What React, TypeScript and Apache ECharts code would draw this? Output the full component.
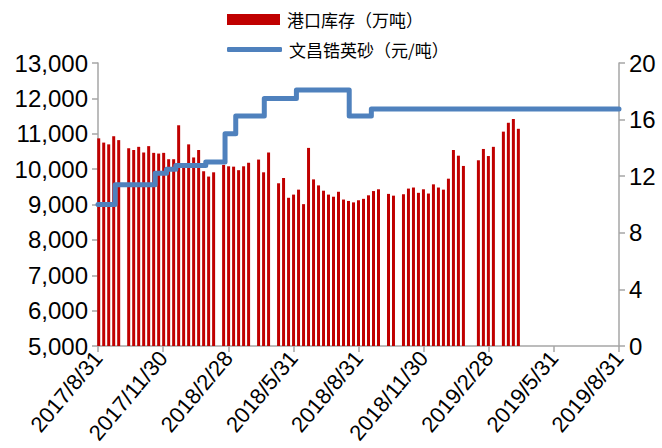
import React, { useEffect, useRef } from "react";
import * as echarts from "echarts";

const START = "2017-08-31";
const xTickLabels = ["2017/8/31", "2017/11/30", "2018/2/28", "2018/5/31", "2018/8/31", "2018/11/30", "2019/2/28", "2019/5/31", "2019/8/31"];

const barDates = [
  "2017-09-01", "2017-09-08", "2017-09-15", "2017-09-22", "2017-09-29",
  "2017-10-13", "2017-10-20", "2017-10-27", "2017-11-03", "2017-11-10", "2017-11-17", "2017-11-24",
  "2017-12-01", "2017-12-08", "2017-12-15", "2017-12-22", "2017-12-29",
  "2018-01-05", "2018-01-12", "2018-01-19", "2018-01-26", "2018-02-02", "2018-02-09",
  "2018-02-23", "2018-03-02", "2018-03-09", "2018-03-16", "2018-03-23", "2018-03-30",
  "2018-04-13", "2018-04-20", "2018-04-27",
  "2018-05-11", "2018-05-18", "2018-05-25", "2018-06-01", "2018-06-08", "2018-06-15", "2018-06-22", "2018-06-29",
  "2018-07-06", "2018-07-13", "2018-07-20", "2018-07-27", "2018-08-03", "2018-08-10", "2018-08-17", "2018-08-24",
  "2018-08-31", "2018-09-07", "2018-09-14", "2018-09-21", "2018-09-28",
  "2018-10-12", "2018-10-19",
  "2018-11-02", "2018-11-09", "2018-11-16", "2018-11-23", "2018-11-30", "2018-12-07", "2018-12-14", "2018-12-21", "2018-12-28",
  "2019-01-04", "2019-01-11", "2019-01-18", "2019-01-25",
  "2019-02-15", "2019-02-22", "2019-03-01", "2019-03-08",
  "2019-03-22", "2019-03-29", "2019-04-05", "2019-04-12",
];
const inventory = [
  10870, 10750, 10700, 10930, 10820,
  10590, 10540, 10630, 10470, 10650, 10460, 10440,
  10460, 10280, 10280, 11240, 10100,
  10700, 10330, 10540, 9940, 9790, 9910,
  10120, 10080, 10070, 9970, 10080, 10180,
  10270, 9910, 10470,
  9600, 9750, 9190, 9280, 9420, 9010, 10600, 9710,
  9540, 9390, 9280, 9220, 9360, 9140, 9100, 9060,
  9120, 9160, 9260, 9380, 9430,
  9300, 9250,
  9290, 9450, 9480, 9330, 9430, 9310, 9570, 9480, 9420,
  9730, 10540, 10380, 10090,
  10250, 10570, 10370, 10630,
  11060, 11310, 11420, 11140,
];

const priceDates = [
  "2017-08-31", "2017-09-24", "2017-11-19", "2017-12-05", "2017-12-18", "2018-01-29",
  "2018-02-25", "2018-03-12", "2018-04-21", "2018-06-05", "2018-08-18", "2018-09-18", "2019-08-31",
];
const zirconPrice = [10.0, 11.4, 12.2, 12.5, 12.75, 13.0, 15.0, 16.25, 17.5, 18.1, 16.25, 16.75, 16.75];

const DAY = 86400000;
const dayOf = (d: string) => Math.round((Date.parse(d) - Date.parse(START)) / DAY);
const TOTAL_DAYS = dayOf("2019-08-31");
const TICK_STEP = TOTAL_DAYS / 8;

const LABEL_FONT = "'Liberation Sans', Arial, sans-serif";
const CJK_FONT = "'Noto Sans CJK SC', sans-serif";
const AXIS_GRAY = "#A6A6A6";
const Y_LABEL_SIZE = 24;
const X_LABEL_SIZE = 22;

export default function App() {
  const ref = useRef<HTMLDivElement>(null);
  useEffect(() => {
    if (!ref.current) return;
    const chart = echarts.init(ref.current, undefined, { renderer: "svg" });
    const barData = barDates.map((d, i) => [dayOf(d), inventory[i]]);
    const lineData = priceDates.map((d, i) => [dayOf(d), zirconPrice[i]]);
    chart.setOption({
      animation: false,
      backgroundColor: "#ffffff",
      legend: [
        {
          data: [{ name: "港口库存（万吨）", icon: "rect" }],
          left: 227,
          top: 11,
          padding: 0,
          itemWidth: 53,
          itemHeight: 11,
          itemGap: 0,
          textStyle: { fontFamily: CJK_FONT, fontSize: 17, color: "#000", padding: [0, 0, 0, 2] },
        },
        {
          data: [{ name: "文昌锆英砂（元/吨）", icon: "roundRect" }],
          left: 227,
          top: 41,
          padding: 0,
          itemWidth: 55,
          itemHeight: 5,
          itemGap: 0,
          itemStyle: { color: "#4F81BD" },
          textStyle: { fontFamily: CJK_FONT, fontSize: 17, color: "#000", padding: [0, 0, 0, 2] },
        },
      ],
      grid: { left: 98, right: 43, top: 63, bottom: 102, containLabel: false },
      xAxis: {
        type: "value",
        min: 0,
        max: TOTAL_DAYS,
        interval: TICK_STEP,
        splitLine: { show: false },
        axisLine: { lineStyle: { color: AXIS_GRAY, width: 1.5 } },
        axisTick: { show: true, length: 6, lineStyle: { color: AXIS_GRAY, width: 1.5 } },
        axisLabel: {
          rotate: 50,
          margin: 8,
          color: "#000",
          fontFamily: LABEL_FONT,
          fontSize: X_LABEL_SIZE,
          formatter: (v: number) => xTickLabels[Math.round(v / TICK_STEP)] ?? "",
        },
      },
      yAxis: [
        {
          type: "value",
          min: 5000,
          max: 13000,
          interval: 1000,
          splitLine: { show: false },
          axisLine: { show: true, lineStyle: { color: AXIS_GRAY, width: 1.5 } },
          axisTick: { show: true, length: 6, lineStyle: { color: AXIS_GRAY, width: 1.5 } },
          axisLabel: {
            margin: 10,
            color: "#000",
            fontFamily: LABEL_FONT,
            fontSize: Y_LABEL_SIZE,
            formatter: (v: number) => v.toLocaleString("en-US"),
          },
        },
        {
          type: "value",
          min: 0,
          max: 20,
          interval: 4,
          position: "right",
          splitLine: { show: false },
          axisLine: { show: true, lineStyle: { color: AXIS_GRAY, width: 1.5 } },
          axisTick: { show: true, length: 6, lineStyle: { color: AXIS_GRAY, width: 1.5 } },
          axisLabel: { margin: 10, color: "#000", fontFamily: LABEL_FONT, fontSize: Y_LABEL_SIZE },
        },
      ],
      series: [
        {
          name: "港口库存（万吨）",
          type: "bar",
          yAxisIndex: 0,
          data: barData,
          barWidth: 3,
          itemStyle: { color: "#C00000" },
        },
        {
          name: "文昌锆英砂（元/吨）",
          type: "line",
          yAxisIndex: 1,
          step: "end",
          data: lineData,
          symbol: "none",
          showSymbol: false,
          lineStyle: { color: "#4F81BD", width: 5, cap: "round", join: "round" },
          itemStyle: { color: "#4F81BD" },
          z: 5,
        },
      ],
    });
    return () => chart.dispose();
  }, []);
  return <div ref={ref} style={{ width: 662, height: 448, position: "absolute", left: 0, top: 0 }} />;
}
